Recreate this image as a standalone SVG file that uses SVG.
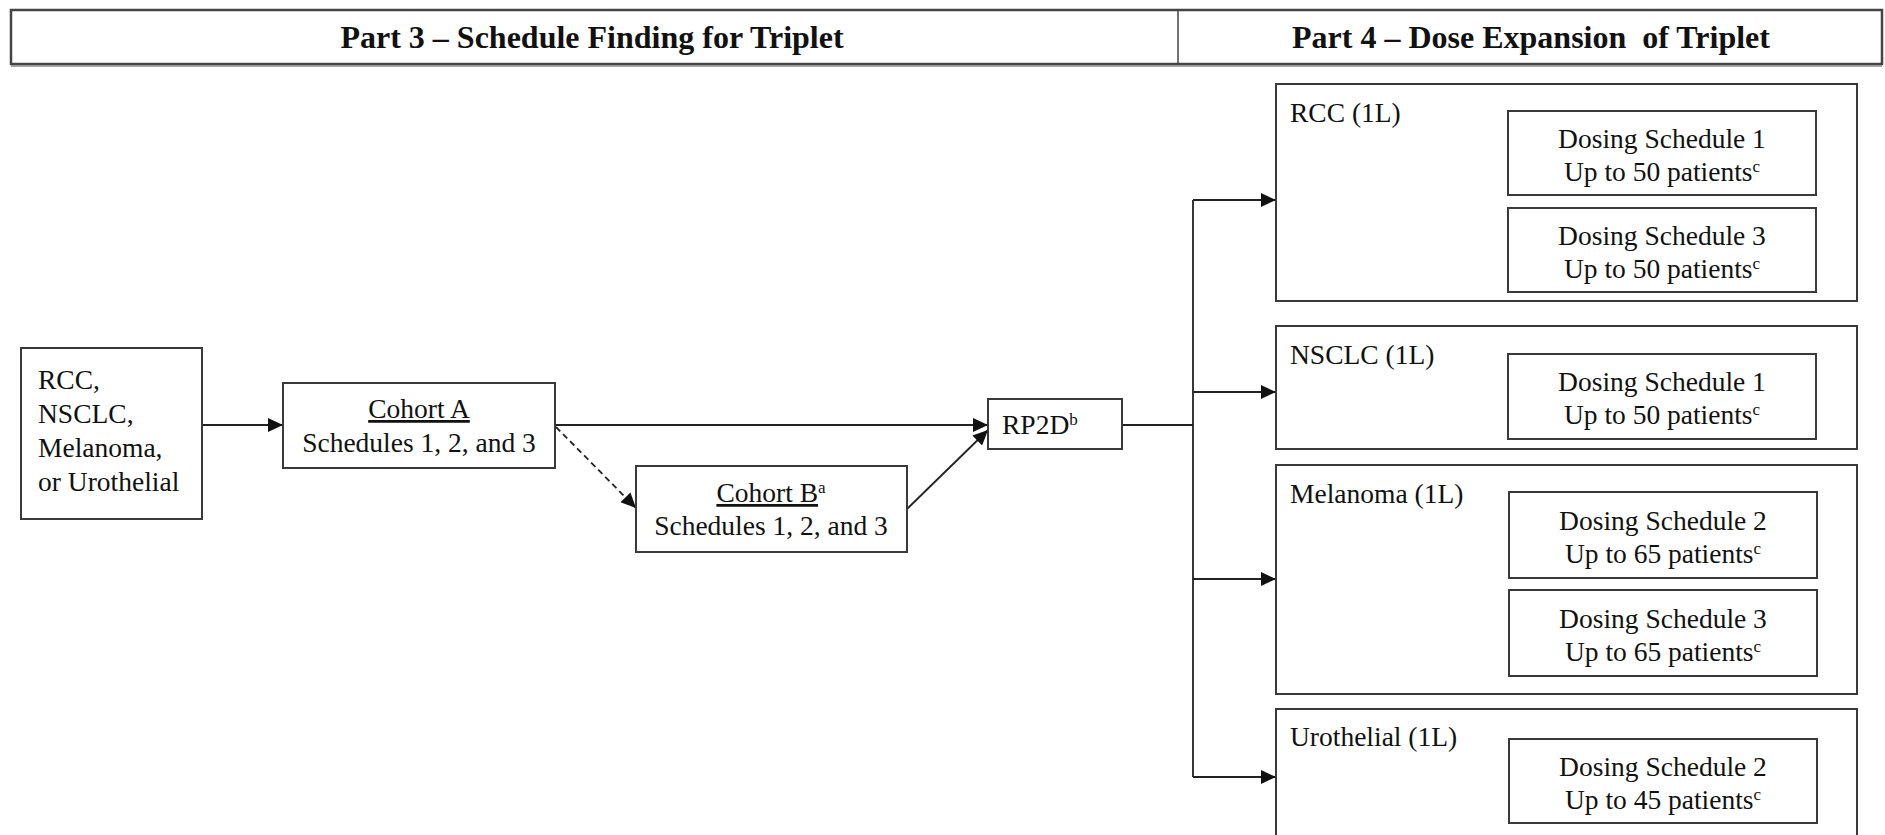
<svg xmlns="http://www.w3.org/2000/svg" width="1885" height="835" viewBox="0 0 1885 835">
<style>
text{font-family:"Liberation Serif","Times New Roman",serif;fill:#111;font-size:27.5px}
.h{font-weight:bold;font-size:32px}
.c{text-anchor:middle}
.box{fill:#fff;stroke:#3a3a3a;stroke-width:2}
.ln{fill:none;stroke:#222;stroke-width:1.8}
.sup{font-size:17px}
.u{text-decoration:underline}
</style>
<defs>
<marker id="ah" markerUnits="userSpaceOnUse" markerWidth="16" markerHeight="16" refX="15" refY="8" orient="auto">
<path d="M0,1 L15,8 L0,15 Z" fill="#111"/>
</marker>
</defs>
<g id="header">
<rect x="11" y="10" width="1871" height="54" fill="#fff" stroke="#444" stroke-width="2.5"/>
<line x1="11" y1="66" x2="1882" y2="66" stroke="#888" stroke-width="1.5"/>
<line x1="1178" y1="10" x2="1178" y2="64" stroke="#444" stroke-width="1.5"/>
<text class="h c" x="592" y="48">Part 3 – Schedule Finding for Triplet</text>
<text class="h c" x="1531" y="48">Part 4 – Dose Expansion&#160; of Triplet</text>
</g>
<g id="connectors">
<line class="ln" x1="202" y1="425" x2="283" y2="425" marker-end="url(#ah)"/>
<line class="ln" x1="555" y1="425" x2="988" y2="425" marker-end="url(#ah)"/>
<line class="ln" x1="556" y1="427" x2="636" y2="508" stroke-dasharray="6 4" marker-end="url(#ah)"/>
<line class="ln" x1="907" y1="509" x2="988" y2="430" marker-end="url(#ah)"/>
<line class="ln" x1="1122" y1="425" x2="1193" y2="425"/>
<line class="ln" x1="1193" y1="200" x2="1193" y2="777"/>
<line class="ln" x1="1193" y1="200" x2="1276" y2="200" marker-end="url(#ah)"/>
<line class="ln" x1="1193" y1="392" x2="1276" y2="392" marker-end="url(#ah)"/>
<line class="ln" x1="1193" y1="579" x2="1276" y2="579" marker-end="url(#ah)"/>
<line class="ln" x1="1193" y1="777" x2="1276" y2="777" marker-end="url(#ah)"/>
</g>
<g id="population">
<rect class="box" x="21" y="348" width="181" height="171"/>
<text x="38" y="389">RCC,</text>
<text x="38" y="423">NSCLC,</text>
<text x="38" y="457">Melanoma,</text>
<text x="38" y="491">or Urothelial</text>
</g>
<g id="cohortA">
<rect class="box" x="283" y="383" width="272" height="85"/>
<text class="c" x="419" y="418"><tspan class="u">Cohort A</tspan></text>
<text class="c" x="419" y="452">Schedules 1, 2, and 3</text>
</g>
<g id="cohortB">
<rect class="box" x="636" y="466" width="271" height="86"/>
<text class="c" x="771" y="502"><tspan class="u">Cohort B</tspan><tspan class="sup" baseline-shift="super">a</tspan></text>
<text class="c" x="771" y="535">Schedules 1, 2, and 3</text>
</g>
<g id="rp2d">
<rect class="box" x="988" y="399" width="134" height="50"/>
<text x="1002" y="434">RP2D<tspan class="sup" baseline-shift="super">b</tspan></text>
</g>
<g id="rcc">
<rect class="box" x="1276" y="84" width="581" height="217"/>
<text x="1290" y="122">RCC (1L)</text>
<rect class="box" x="1508" y="111" width="308" height="84"/>
<text class="c" x="1662" y="148">Dosing Schedule 1</text>
<text class="c" x="1662" y="181">Up to 50 patients<tspan class="sup" baseline-shift="super">c</tspan></text>
<rect class="box" x="1508" y="208" width="308" height="84"/>
<text class="c" x="1662" y="245">Dosing Schedule 3</text>
<text class="c" x="1662" y="278">Up to 50 patients<tspan class="sup" baseline-shift="super">c</tspan></text>
</g>
<g id="nsclc">
<rect class="box" x="1276" y="326" width="581" height="123"/>
<text x="1290" y="364">NSCLC (1L)</text>
<rect class="box" x="1508" y="354" width="308" height="85"/>
<text class="c" x="1662" y="391">Dosing Schedule 1</text>
<text class="c" x="1662" y="424">Up to 50 patients<tspan class="sup" baseline-shift="super">c</tspan></text>
</g>
<g id="melanoma">
<rect class="box" x="1276" y="465" width="581" height="229"/>
<text x="1290" y="503">Melanoma (1L)</text>
<rect class="box" x="1509" y="492" width="308" height="86"/>
<text class="c" x="1663" y="530">Dosing Schedule 2</text>
<text class="c" x="1663" y="563">Up to 65 patients<tspan class="sup" baseline-shift="super">c</tspan></text>
<rect class="box" x="1509" y="590" width="308" height="86"/>
<text class="c" x="1663" y="628">Dosing Schedule 3</text>
<text class="c" x="1663" y="661">Up to 65 patients<tspan class="sup" baseline-shift="super">c</tspan></text>
</g>
<g id="urothelial">
<rect class="box" x="1276" y="709" width="581" height="140"/>
<text x="1290" y="746">Urothelial (1L)</text>
<rect class="box" x="1509" y="739" width="308" height="84"/>
<text class="c" x="1663" y="776">Dosing Schedule 2</text>
<text class="c" x="1663" y="809">Up to 45 patients<tspan class="sup" baseline-shift="super">c</tspan></text>
</g>
</svg>
